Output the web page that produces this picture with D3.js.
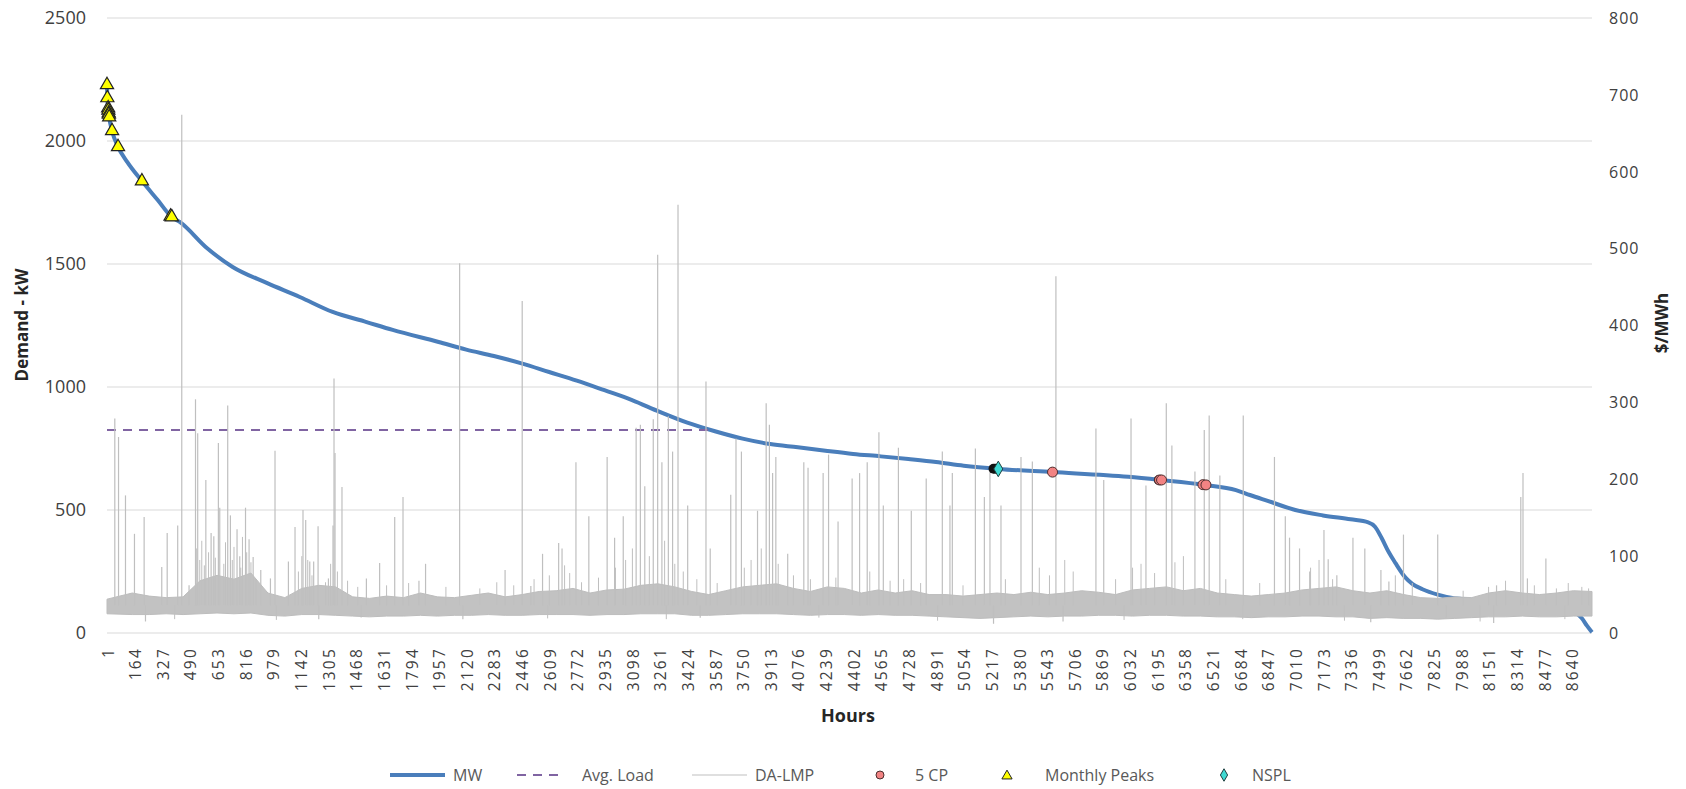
<!DOCTYPE html>
<html>
<head>
<meta charset="utf-8">
<script src="https://cdn.jsdelivr.net/npm/d3@7"></script>
<style>
  body { margin: 0; background: #fff; }
  svg text { font-family: "Open Sans", "Liberation Sans", sans-serif; }
</style>
</head>
<body>
<svg id="chart" width="1686" height="789"></svg>
<script>
// load duration curve (MW, sorted)
const loadHours = [1, 3, 8, 14, 31, 66, 120, 207, 300, 383, 430, 590, 742, 943, 1138, 1332, 1532, 1686, 1957, 2120, 2283, 2446, 2609, 2772, 2935, 3098, 3261, 3424, 3587, 3750, 3913, 4076, 4239, 4402, 4565, 4728, 4891, 5054, 5258, 5578, 6025, 6215, 6474, 6660, 6742, 6847, 7010, 7173, 7336, 7440, 7480, 7520, 7560, 7600, 7660, 7700, 7760, 7850, 7946, 8065, 8185, 8300, 8400, 8550, 8640, 8666, 8700, 8730, 8760]
const loadMW    = [2228, 2175, 2134, 2097, 2041, 1976, 1915, 1837, 1760, 1691, 1671, 1565, 1488, 1423, 1366, 1305, 1264, 1232, 1183, 1152, 1126, 1096, 1061, 1026, 987, 947, 899, 855, 820, 790, 768, 755, 741, 728, 718, 707, 695, 680, 667, 654, 635, 622, 602, 581, 561, 537, 500, 478, 462, 450, 432, 385, 330, 285, 225, 200, 178, 156, 141, 135, 130, 126, 118, 105, 90, 81, 60, 30, 3]

const avgLoad = 825
const avgLoadHours = [1, 3560]

// DA-LMP band per 100 hour bin ($/MWh): low and high edge of the dense band
const lmpBinSize = 100
const lmpLow  = [25, 24, 24, 25, 24, 25, 26, 25, 26, 23, 22, 24, 24, 23, 22, 21, 22, 22, 23, 22, 23, 23, 24, 23, 23, 24, 24, 24, 23, 24, 24, 25, 25, 25, 23, 23, 24, 25, 25, 25, 24, 23, 24, 24, 23, 24, 23, 23, 22, 21, 20, 19, 20, 21, 22, 21, 22, 22, 23, 23, 22, 23, 23, 22, 22, 21, 21, 20, 21, 21, 22, 22, 21, 21, 19, 20, 19, 19, 18, 19, 20, 21, 21, 22, 21, 21, 22, 22]
const lmpHigh = [44, 52, 48, 46, 47, 68, 75, 70, 78, 52, 46, 58, 62, 60, 47, 45, 48, 46, 52, 47, 46, 49, 52, 47, 50, 54, 55, 58, 52, 56, 57, 62, 64, 60, 54, 50, 55, 60, 62, 64, 58, 54, 60, 58, 52, 56, 52, 55, 50, 50, 48, 50, 52, 50, 53, 50, 52, 55, 53, 50, 56, 58, 60, 55, 58, 52, 50, 48, 50, 52, 56, 58, 60, 55, 52, 55, 50, 46, 45, 47, 46, 52, 55, 52, 50, 52, 55, 54]

// DA-LMP tall spikes (hour, $/MWh)
const spikeHours = [47, 69, 110, 163, 220, 228, 324, 356, 418, 442, 485, 523, 536, 584, 615, 631, 658, 666, 713, 729, 768, 784, 818, 839, 863, 908, 965, 992, 1071, 1110, 1157, 1173, 1197, 1220, 1246, 1250, 1307, 1334, 1340, 1346, 1387, 1531, 1609, 1698, 1747, 1841, 1880, 2081, 2100, 2349, 2450, 2501, 2570, 2665, 2685, 2767, 2843, 2951, 2995, 3046, 3122, 3147, 3173, 3223, 3249, 3274, 3312, 3337, 3369, 3426, 3500, 3534, 3559, 3680, 3711, 3743, 3838, 3889, 3908, 3927, 3946, 4016, 4111, 4136, 4225, 4257, 4313, 4396, 4440, 4485, 4554, 4580, 4669, 4745, 4833, 4928, 4973, 4987, 5123, 5176, 5209, 5230, 5274, 5392, 5459, 5598, 5640, 5834, 5880, 6041, 6129, 6249, 6282, 6418, 6473, 6502, 6565, 6703, 6887, 6951, 6976, 7035, 7095, 7179, 7204, 7255, 7350, 7420, 7455, 7515, 7562, 7648, 7850, 7900, 8180, 8197, 8340, 8353, 8379, 8488]
const spikeValues = [279, 255, 179, 129, 151, 15, 86, 130, 140, 674, 62, 304, 260, 199, 130, 126, 247, 163, 296, 153, 135, 100, 163, 122, 99, 82, 71, 237, 93, 138, 160, 147, 93, 93, 139, 18, 71, 140, 331, 234, 190, 71, 91, 151, 177, 68, 90, 481, 18, 82, 432, 61, 103, 117, 110, 222, 152, 229, 124, 152, 267, 271, 191, 278, 492, 222, 282, 236, 557, 166, 20, 327, 110, 180, 253, 236, 159, 299, 271, 208, 229, 103, 222, 215, 208, 232, 145, 201, 208, 222, 261, 166, 241, 159, 201, 236, 166, 208, 240, 177, 217, 12, 166, 229, 223, 464, 15, 266, 199, 279, 192, 299, 244, 210, 264, 283, 205, 283, 229, 152, 124, 110, 80, 134, 96, 75, 124, 110, 14, 82, 67, 128, 128, 20, 13, 62, 177, 208, 71, 97]

// DA-LMP small spikes and dips around the band
const minorHours = [400, 530, 548, 560, 575, 600, 640, 690, 700, 740, 750, 790, 800, 825, 850, 880, 1000, 1130, 1150, 1185, 1210, 1290, 1320, 1360, 1420, 1480, 1500, 1650, 1780, 2000, 2200, 2300, 2400, 2520, 2600, 2610, 2700, 2730, 2800, 2900, 3000, 3060, 3100, 3200, 3290, 3300, 3350, 3400, 3480, 3600, 3760, 3800, 3860, 3960, 4050, 4150, 4200, 4300, 4500, 4620, 4700, 4800, 4900, 5050, 5300, 5500, 5560, 5650, 5700, 5950, 6000, 6050, 6100, 6180, 6300, 6350, 6600, 6700, 6800, 7100, 7150, 7230, 7300, 7600, 7700, 8000, 8100, 8150, 8250, 8420, 8550, 8600, 8620, 8700, 8740]
const minorValues = [18, 110, 95, 120, 88, 105, 98, 90, 118, 95, 112, 85, 125, 105, 92, 70, 17, 80, 100, 95, 75, 66, 90, 80, 68, 60, 20, 62, 65, 60, 58, 66, 62, 70, 19, 75, 88, 78, 66, 72, 85, 95, 110, 100, 120, 18, 90, 80, 70, 65, 85, 95, 110, 90, 75, 70, 20, 72, 80, 68, 70, 65, 16, 62, 70, 85, 75, 95, 80, 70, 17, 85, 90, 78, 92, 100, 70, 18, 65, 85, 95, 70, 16, 75, 65, 55, 15, 60, 68, 62, 58, 18, 65, 60, 58]

// markers
const peakHours = [1, 3, 8, 9, 11, 12, 14, 31, 66, 207, 376, 383]
const peakMW    = [2228, 2175, 2134, 2125, 2113, 2108, 2097, 2041, 1976, 1837, 1694, 1691]
const cpHours = [5578, 6209, 6221, 6465, 6483]
const cpMW    = [654, 622, 622, 603, 602]
const nsplHours = [5258]
const nsplMW    = [667]
const darkHours = [5230, 5242, 6205]
const darkMW    = [668, 668, 622]

const xTicks = d3.range(1, 8761, 163)
const leftTicks = [0, 500, 1000, 1500, 2000, 2500]
const rightTicks = [0, 100, 200, 300, 400, 500, 600, 700, 800]

const svg = d3.select('#chart')
const plotLeft = 107, plotRight = 1592, plotTop = 18, plotBottom = 633

const x = d3.scaleLinear().domain([1, 8760]).range([plotLeft, plotRight])
const yL = d3.scaleLinear().domain([0, 2500]).range([plotBottom, plotTop])
const yR = d3.scaleLinear().domain([0, 800]).range([plotBottom, plotTop])

// gridlines
svg.append('g').selectAll('line')
  .data(leftTicks)
  .enter()
  .append('line')
  .attr('x1', plotLeft)
  .attr('x2', plotRight)
  .attr('y1', d => yL(d))
  .attr('y2', d => yL(d))
  .attr('stroke', '#d9d9d9')
  .attr('stroke-width', 1)

// left axis labels
svg.append('g').selectAll('text')
  .data(leftTicks)
  .enter()
  .append('text')
  .attr('x', 86)
  .attr('y', d => yL(d))
  .attr('dy', '0.36em')
  .attr('text-anchor', 'end')
  .attr('font-size', 18)
  .attr('fill', '#404040')
  .text(d => d)

// right axis labels
svg.append('g').selectAll('text')
  .data(rightTicks)
  .enter()
  .append('text')
  .attr('x', 1609)
  .attr('y', d => yR(d))
  .attr('dy', '0.36em')
  .attr('font-size', 16)
  .attr('letter-spacing', 1)
  .attr('fill', '#404040')
  .text(d => d)

// x labels
svg.append('g').selectAll('text')
  .data(xTicks)
  .enter()
  .append('text')
  .attr('transform', d => `translate(${x(d) + 1},647) rotate(-90)`)
  .attr('dy', '0.36em')
  .attr('text-anchor', 'end')
  .attr('font-size', 15.5)
  .attr('letter-spacing', 2.2)
  .attr('fill', '#404040')
  .text(d => d)

// axis titles
svg.append('text')
  .attr('transform', 'translate(22,325) rotate(-90)')
  .attr('dy', '0.36em')
  .attr('text-anchor', 'middle')
  .attr('font-size', 17)
  .attr('font-weight', 'bold')
  .attr('fill', '#262626')
  .text('Demand - kW')

svg.append('text')
  .attr('transform', 'translate(1662,323) rotate(-90)')
  .attr('dy', '0.36em')
  .attr('text-anchor', 'middle')
  .attr('font-size', 17)
  .attr('font-weight', 'bold')
  .attr('fill', '#262626')
  .text('$/MWh')

svg.append('text')
  .attr('x', 848)
  .attr('y', 716)
  .attr('dy', '0.36em')
  .attr('text-anchor', 'middle')
  .attr('font-size', 18)
  .attr('font-weight', 'bold')
  .attr('fill', '#262626')
  .text('Hours')

// MW line
const loadData = loadHours.map((h, i) => [h, loadMW[i]])
const loadLine = d3.line()
  .x(d => x(d[0]))
  .y(d => yL(d[1]))
  .curve(d3.curveMonotoneX)

svg.append('path')
  .datum(loadData)
  .attr('d', loadLine)
  .attr('fill', 'none')
  .attr('stroke', '#4a7ebb')
  .attr('stroke-width', 4)
  .attr('stroke-linejoin', 'round')

// avg load
svg.append('line')
  .attr('x1', x(avgLoadHours[0]))
  .attr('x2', x(avgLoadHours[1]))
  .attr('y1', yL(avgLoad))
  .attr('y2', yL(avgLoad))
  .attr('stroke', '#8064a2')
  .attr('stroke-width', 2)
  .attr('stroke-dasharray', '9,7')

// DA-LMP band
const band = lmpLow.map((lo, i) => ({
  h: Math.min(i * lmpBinSize + lmpBinSize / 2, 8760),
  lo: lo,
  hi: lmpHigh[i]
}))
band[0].h = 1
band[band.length - 1].h = 8760

const bandArea = d3.area()
  .x(d => x(d.h))
  .y0(d => yR(d.lo))
  .y1(d => yR(d.hi))

svg.append('path')
  .datum(band)
  .attr('d', bandArea)
  .attr('fill', '#c2c2c2')
  .attr('stroke', '#bdbdbd')
  .attr('stroke-width', 1)

// DA-LMP spikes
const drawSpikes = (hours, values, w) => {
  svg.append('g').selectAll('line')
    .data(hours.map((h, i) => [h, values[i]]))
    .enter()
    .append('line')
    .attr('x1', d => x(d[0]))
    .attr('x2', d => x(d[0]))
    .attr('y1', yR(36))
    .attr('y2', d => yR(d[1]))
    .attr('stroke', '#bfbfbf')
    .attr('stroke-width', w)
}
drawSpikes(minorHours, minorValues, 1)
drawSpikes(spikeHours, spikeValues, 1.2)

// markers
const sym = (type, size) => d3.symbol().type(type).size(size)()

svg.append('g').selectAll('circle')
  .data(darkHours.map((h, i) => [h, darkMW[i]]))
  .enter()
  .append('circle')
  .attr('cx', d => x(d[0]))
  .attr('cy', d => yL(d[1]))
  .attr('r', 5)
  .attr('fill', '#111')

svg.append('g').selectAll('path')
  .data(peakHours.map((h, i) => [h, peakMW[i]]))
  .enter()
  .append('path')
  .attr('d', sym(d3.symbolTriangle, 75))
  .attr('transform', d => `translate(${x(d[0])},${yL(d[1])})`)
  .attr('fill', '#ffff00')
  .attr('stroke', '#222')
  .attr('stroke-width', 1.2)

svg.append('g').selectAll('circle')
  .data(cpHours.map((h, i) => [h, cpMW[i]]))
  .enter()
  .append('circle')
  .attr('cx', d => x(d[0]))
  .attr('cy', d => yL(d[1]))
  .attr('r', 5)
  .attr('fill', '#f28383')
  .attr('stroke', '#4d2e2e')
  .attr('stroke-width', 1)

svg.append('g').selectAll('path')
  .data(nsplHours.map((h, i) => [h, nsplMW[i]]))
  .enter()
  .append('path')
  .attr('d', sym(d3.symbolDiamond, 70))
  .attr('transform', d => `translate(${x(d[0])},${yL(d[1])})`)
  .attr('fill', '#3fd9d2')
  .attr('stroke', '#1f3f3f')
  .attr('stroke-width', 1)

// legend
const legendY = 775
const legend = svg.append('g')

legend.append('line')
  .attr('x1', 390).attr('x2', 445).attr('y1', legendY).attr('y2', legendY)
  .attr('stroke', '#4a7ebb').attr('stroke-width', 4)
legend.append('line')
  .attr('x1', 517).attr('x2', 563).attr('y1', legendY).attr('y2', legendY)
  .attr('stroke', '#8064a2').attr('stroke-width', 2).attr('stroke-dasharray', '9,7')
legend.append('line')
  .attr('x1', 692).attr('x2', 747).attr('y1', legendY).attr('y2', legendY)
  .attr('stroke', '#bfbfbf').attr('stroke-width', 1.2)
legend.append('circle')
  .attr('cx', 880).attr('cy', legendY).attr('r', 4)
  .attr('fill', '#f28383').attr('stroke', '#4d2e2e')
legend.append('path')
  .attr('d', sym(d3.symbolTriangle, 45))
  .attr('transform', `translate(1007,${legendY + 1})`)
  .attr('fill', '#ffff00').attr('stroke', '#222')
legend.append('path')
  .attr('d', sym(d3.symbolDiamond, 45))
  .attr('transform', `translate(1224,${legendY})`)
  .attr('fill', '#3fd9d2').attr('stroke', '#1f3f3f')

const legendLabels = [['MW', 453], ['Avg. Load', 582], ['DA-LMP', 755], ['5 CP', 915], ['Monthly Peaks', 1045], ['NSPL', 1252]]
legend.selectAll('text')
  .data(legendLabels)
  .enter()
  .append('text')
  .attr('x', d => d[1])
  .attr('y', legendY)
  .attr('dy', '0.36em')
  .attr('font-size', 16)
  .attr('fill', '#595959')
  .text(d => d[0])
</script>
</body>
</html>
